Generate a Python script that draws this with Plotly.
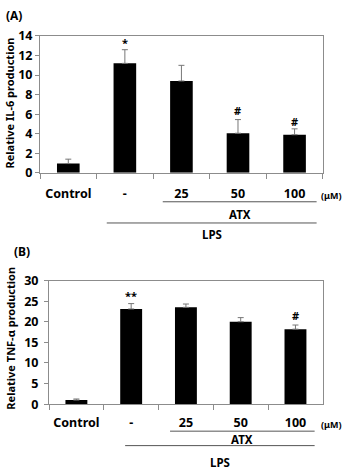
import plotly.graph_objects as go

categories = ["Control", "-", "25", "50", "100"]
il6_values = [0.95, 11.2, 9.4, 4.05, 3.9]
il6_err_top = [1.4, 12.6, 11.0, 5.45, 4.5]
il6_marks = ["", "*", "", "#", "#"]
il6_mark_y = [None, 13.3, None, 6.4, 5.3]

tnf_values = [1.0, 23.1, 23.5, 20.0, 18.2]
tnf_err_top = [1.25, 24.4, 24.3, 21.0, 19.2]
tnf_marks = ["", "**", "", "", "#"]
tnf_mark_y = [None, 26.3, None, None, 21.6]

FONT = "Noto Sans"
AXC = "#8c8c8c"

fig = go.Figure()

def add_bars(vals, tops, xa, ya):
    fig.add_trace(go.Bar(
        x=categories, y=vals, xaxis=xa, yaxis=ya, width=0.4,
        marker=dict(color="black", line=dict(width=0)),
        error_y=dict(type="data", symmetric=False,
                     array=[t - v for t, v in zip(tops, vals)],
                     arrayminus=[0] * len(vals),
                     color="#777777", thickness=1, width=3),
        showlegend=False))

add_bars(il6_values, il6_err_top, "x", "y")
add_bars(tnf_values, tnf_err_top, "x2", "y2")

xcommon = dict(type="category", tickson="boundaries", ticks="outside", ticklen=5,
               tickcolor=AXC, showline=True, linecolor=AXC, linewidth=1, mirror=True,
               range=[-0.5, 4.5], showgrid=False, tickangle=0,
               tickfont=dict(family=FONT, size=12.5, color="black", weight="bold"))
ycommon = dict(ticks="outside", ticklen=4, tickcolor=AXC, showline=True, linecolor=AXC,
               linewidth=1, mirror=True, showgrid=False, zeroline=False,
               tickfont=dict(family=FONT, size=12.5, color="black", weight="bold"))

fig.update_layout(
    width=342, height=470, margin=dict(l=0, r=0, t=0, b=0),
    paper_bgcolor="white", plot_bgcolor="white",
    xaxis=dict(domain=[0.117, 0.944], anchor="y", ticklabelstandoff=9, **xcommon),
    yaxis=dict(domain=[0.6383, 0.9404], anchor="x", range=[0, 14], dtick=2, **ycommon),
    xaxis2=dict(domain=[0.1433, 0.944], anchor="y2", ticklabelstandoff=7, **xcommon),
    yaxis2=dict(domain=[0.1277, 0.4006], anchor="x2", range=[0, 30], dtick=5,
                ticklabelstandoff=3, **ycommon),
)

ann = []
bold = dict(family=FONT, color="black", weight="bold")

def marks(labels, ys, xr, yr):
    for i, (m, y) in enumerate(zip(labels, ys)):
        if m:
            ann.append(dict(x=i, y=y, xref=xr, yref=yr, text=m, showarrow=False,
                            xanchor="center", yanchor="middle",
                            font=dict(size=11, **bold)))

marks(il6_marks, il6_mark_y, "x", "y")
marks(tnf_marks, tnf_mark_y, "x2", "y2")

def py(p):
    return 1 - p / 470

def note(xp, yp, text, size, angle=0):
    ann.append(dict(x=xp / 342, y=py(yp), xref="paper", yref="paper", text=text,
                    textangle=angle, showarrow=False, xanchor="center", yanchor="middle",
                    font=dict(size=size, **bold)))

note(14, 7, "(A)", 12)
note(22, 252, "(B)", 12)
note(9, 98, "Relative IL-6 production", 11, -90)
note(11, 342, "Relative TNF-α production", 11, -90)
note(331, 193, "(μM)", 9)
note(331, 431, "(μM)", 9)

shapes = []
def group(xr, x0, x1, yline, ylabel, label, anchor="middle"):
    shapes.append(dict(type="line", xref=xr, yref="paper", x0=x0, x1=x1, y0=py(yline), y1=py(yline),
                       line=dict(color="#555555", width=1)))
    ann.append(dict(x=(x0 + x1) / 2, y=py(ylabel), xref=xr, yref="paper", text=label,
                    showarrow=False, xanchor="center", yanchor=anchor,
                    font=dict(size=11.5, **bold)))

group("x", 1.67, 4.39, 200, 213, "ATX")
group("x", 0.68, 4.39, 222, 234, "LPS")
group("x2", 1.71, 4.35, 438, 447, "ATX")
group("x2", 0.89, 4.35, 453, 461, "LPS", "top")

fig.update_layout(annotations=ann, shapes=shapes)
fig.write_html("out.html")
